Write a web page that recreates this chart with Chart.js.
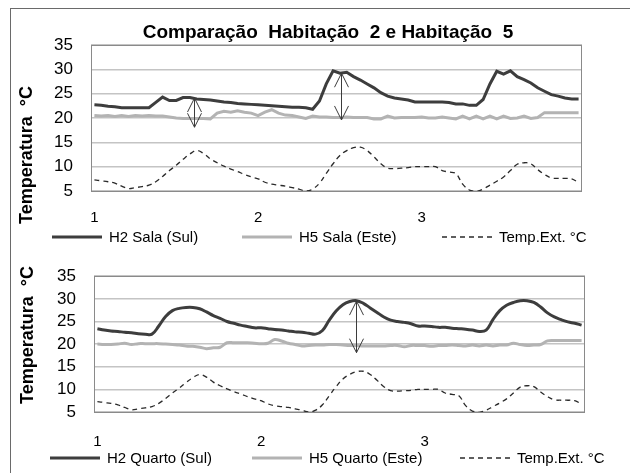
<!DOCTYPE html>
<html>
<head>
<meta charset="utf-8">
<script src="https://cdn.jsdelivr.net/npm/chart.js@4.4.1/dist/chart.umd.min.js"></script>
<style>
  html, body { margin: 0; padding: 0; background: #fff; }
  body { width: 630px; height: 473px; position: relative; overflow: hidden; }
  #frame { position: absolute; left: 10px; top: 8px; width: 660px; height: 500px; border: 1px solid #6a6a6a; }
  canvas { position: absolute; left: 10px; }
  #top { top: 8px; }
  #bottom { top: 248px; }
</style>
</head>
<body>
<div id="frame"></div>
<canvas id="top" width="620" height="240"></canvas>
<canvas id="bottom" width="620" height="225"></canvas>
<script>
// 3 days, hourly readings
const dayLabels = ['1', '2', '3'];
const hoursPerDay = 24;

const salaH2 = [
  22.7, 22.6, 22.4, 22.3, 22.1, 22.1, 22.1, 22.1, 22.1, 23.2, 24.3, 23.6, 23.6, 24.2, 24.2, 23.9, 23.8, 23.7, 23.5, 23.3, 23.2, 23.0, 22.9, 22.8,
  22.7, 22.6, 22.5, 22.4, 22.3, 22.2, 22.2, 22.1, 21.8, 23.5, 27.0, 29.7, 29.2, 29.4, 28.5, 27.8, 27.0, 26.2, 25.2, 24.5, 24.1, 23.9, 23.7, 23.3,
  23.3, 23.3, 23.3, 23.3, 23.2, 22.9, 22.9, 22.6, 22.6, 23.8, 27.0, 29.6, 29.0, 29.7, 28.5, 27.9, 27.2, 26.2, 25.5, 24.8, 24.5, 24.1, 23.9, 23.9
];
const salaH5 = [
  20.5, 20.4, 20.5, 20.3, 20.5, 20.3, 20.5, 20.4, 20.5, 20.4, 20.4, 20.2, 20.0, 19.9, 19.9, 19.9, 19.9, 19.8, 21.0, 21.4, 21.2, 21.5, 21.2, 21.0,
  20.5, 21.2, 21.7, 21.0, 20.6, 20.5, 20.2, 19.9, 20.4, 20.2, 20.2, 20.1, 20.1, 20.2, 20.1, 20.1, 20.1, 19.8, 19.8, 20.4, 20.0, 20.1, 20.1, 20.1,
  20.2, 20.0, 20.0, 20.2, 20.0, 19.8, 20.4, 19.8, 20.4, 19.8, 20.4, 19.8, 20.4, 19.9, 20.0, 20.4, 19.9, 20.1, 21.1, 21.1, 21.1, 21.1, 21.1, 21.1
];
const quartoH2 = [
  23.4, 23.1, 22.9, 22.8, 22.6, 22.5, 22.3, 22.2, 22.2, 24.0, 26.1, 27.4, 27.9, 28.1, 28.1, 27.8, 27.1, 26.3, 25.7, 25.0, 24.6, 24.2, 23.9, 23.6,
  23.6, 23.4, 23.2, 23.1, 22.9, 22.7, 22.6, 22.4, 22.2, 23.0, 25.3, 27.3, 28.7, 29.4, 29.6, 29.0, 28.0, 27.0, 26.0, 25.3, 25.0, 24.8, 24.5, 24.0,
  24.0, 23.9, 23.7, 23.7, 23.5, 23.4, 23.3, 23.1, 22.8, 23.1, 25.4, 27.4, 28.6, 29.2, 29.6, 29.6, 29.2, 28.2, 26.9, 26.0, 25.4, 24.9, 24.6, 24.2
];
const quartoH5 = [
  20.0, 19.9, 19.9, 20.0, 20.2, 19.9, 20.1, 20.1, 20.1, 20.1, 20.0, 19.9, 19.8, 19.6, 19.5, 19.3, 19.0, 19.2, 19.3, 20.3, 20.3, 20.3, 20.3, 20.2,
  20.1, 20.2, 21.0, 20.7, 20.2, 19.9, 19.6, 19.7, 19.8, 19.8, 19.9, 19.9, 19.8, 19.7, 19.7, 19.6, 19.6, 19.6, 19.6, 19.7, 19.7, 19.4, 19.7, 19.7,
  19.7, 19.5, 19.7, 19.7, 19.8, 19.7, 19.6, 19.8, 19.6, 19.8, 19.6, 19.8, 19.8, 20.2, 19.9, 19.7, 19.8, 19.9, 20.7, 20.8, 20.8, 20.8, 20.8, 20.8
];
const tempExt = [
  7.3, 7.1, 6.9, 6.6, 6.0, 5.5, 5.7, 5.9, 6.2, 6.9, 8.0, 9.2, 10.3, 11.5, 12.6, 13.3, 12.7, 11.6, 10.8, 10.1, 9.5, 9.0, 8.4, 7.9,
  7.5, 6.8, 6.4, 6.2, 6.0, 5.7, 5.4, 5.0, 5.4, 6.6, 8.6, 10.6, 12.3, 13.3, 13.9, 14.0, 13.3, 12.0, 10.6, 9.7, 9.6, 9.7, 9.8, 10.0,
  10.0, 10.0, 10.0, 9.2, 8.9, 8.6, 6.4, 5.2, 4.9, 5.4, 6.2, 7.0, 7.9, 9.2, 10.5, 10.8, 10.6, 9.4, 8.4, 7.7, 7.6, 7.6, 7.5, 6.7
];

// double arrows (category index, from value, to value)
const salaArrowAt = [14.6, 36.1];
const salaArrowFrom = [24.1, 29.2];
const salaArrowTo = [18.1, 19.6];
const quartoArrowAt = [37.9];
const quartoArrowFrom = [29.5];
const quartoArrowTo = [18.1];

const xLabels = salaH2.map((v, i) => i % hoursPerDay === 0 ? dayLabels[i / hoursPerDay] : '');

const fam = "'Liberation Sans', Arial, sans-serif";

const decor = {
  id: 'decor',
  afterDraw(chart, args, o) {
    const { ctx, chartArea: a } = chart;
    const x = chart.scales.x, y = chart.scales.y;
    ctx.save();
    // plot frame
    ctx.strokeStyle = '#8a8a8a';
    ctx.lineWidth = 1;
    ctx.strokeRect(Math.round(a.left) + 0.5, Math.round(a.top) + 0.5, Math.round(a.right - a.left) - 1, Math.round(a.bottom - a.top));
    // arrows
    ctx.strokeStyle = '#3c3c3c';
    o.arrowAt.forEach((i, k) => {
      const px = Math.round(x.getPixelForValue(i)) + 0.5;
      const p1 = y.getPixelForValue(o.arrowFrom[k]);
      const p2 = y.getPixelForValue(o.arrowTo[k]);
      ctx.beginPath();
      ctx.moveTo(px, p1); ctx.lineTo(px, p2);
      ctx.moveTo(px - 7, p1 + 14); ctx.lineTo(px, p1); ctx.lineTo(px + 7, p1 + 14);
      ctx.moveTo(px - 7, p2 - 14); ctx.lineTo(px, p2); ctx.lineTo(px + 7, p2 - 14);
      ctx.stroke();
    });
    ctx.fillStyle = '#000';
    ctx.textBaseline = 'middle';
    // chart title
    if (o.title) {
      ctx.font = 'bold 19px ' + fam;
      ctx.textAlign = 'center';
      ctx.fillText(o.title, o.titleX, o.titleY);
    }
    // y axis title
    ctx.save();
    ctx.translate(o.yTitleX, o.yTitleY);
    ctx.rotate(-Math.PI / 2);
    ctx.font = 'bold 18px ' + fam;
    ctx.textAlign = 'center';
    ctx.fillText('Temperatura  °C', 0, 0);
    ctx.restore();
    // legend
    ctx.font = '15px ' + fam;
    ctx.textAlign = 'left';
    chart.data.datasets.forEach((ds, k) => {
      const lx = o.legendX[k];
      ctx.strokeStyle = ds.borderColor;
      ctx.lineWidth = ds.borderWidth;
      ctx.setLineDash(ds.borderDash || []);
      ctx.beginPath();
      ctx.moveTo(lx, o.legendY);
      ctx.lineTo(lx + 50, o.legendY);
      ctx.stroke();
      ctx.setLineDash([]);
      ctx.fillText(ds.label, lx + 57, o.legendY + 1);
    });
    ctx.restore();
  }
};

function makeChart(id, names, h2, h5, smooth, layout, deco) {
  return new Chart(document.getElementById(id), {
    type: 'line',
    data: {
      labels: xLabels,
      datasets: [
        { label: names[0], data: h2, borderColor: '#3d3d3d', borderWidth: 3, tension: smooth },
        { label: names[1], data: h5, borderColor: '#b3b3b3', borderWidth: 3, tension: smooth },
        { label: names[2], data: tempExt, borderColor: '#2a2a2a', borderWidth: 1.3, borderDash: [5, 4], tension: 0.4 }
      ]
    },
    options: {
      responsive: false,
      animation: false,
      layout: { padding: layout.padding },
      elements: { point: { radius: 0 } },
      plugins: {
        legend: { display: false },
        tooltip: { enabled: false },
        decor: deco
      },
      scales: {
        x: {
          offset: true,
          grid: { display: false, drawTicks: false },
          border: { display: false },
          ticks: { autoSkip: false, maxRotation: 0, padding: layout.xPad, color: '#000', font: { family: fam, size: 15 } },
          afterFit: s => { s.height = layout.xH; }
        },
        y: {
          min: 5,
          max: 35,
          grid: { color: '#c4c4c4', lineWidth: 1.5, drawTicks: false },
          border: { display: false },
          ticks: { stepSize: 5, autoSkip: false, padding: 18, color: '#000', font: { family: fam, size: 17 } },
          afterFit: s => { s.width = layout.yW; }
        }
      }
    },
    plugins: [decor]
  });
}

makeChart('top', ['H2 Sala (Sul)', 'H5 Sala (Este)', 'Temp.Ext. °C'], salaH2, salaH5, 0,
  { padding: { top: 37, left: 0, right: 48, bottom: 21 }, xPad: 18, xH: 36, yW: 81 },
  { title: 'Comparação  Habitação  2 e Habitação  5', titleX: 318, titleY: 25,
    yTitleX: 17, yTitleY: 147, legendX: [42, 232, 432], legendY: 229,
    arrowAt: salaArrowAt, arrowFrom: salaArrowFrom, arrowTo: salaArrowTo });

makeChart('bottom', ['H2 Quarto (Sul)', 'H5 Quarto (Este)', 'Temp.Ext. °C'], quartoH2, quartoH5, 0.4,
  { padding: { top: 16, left: 0, right: 45, bottom: 22 }, xPad: 21, xH: 39, yW: 84 },
  { title: '', yTitleX: 18, yTitleY: 87, legendX: [40, 242, 450], legendY: 210,
    arrowAt: quartoArrowAt, arrowFrom: quartoArrowFrom, arrowTo: quartoArrowTo });
</script>
</body>
</html>
